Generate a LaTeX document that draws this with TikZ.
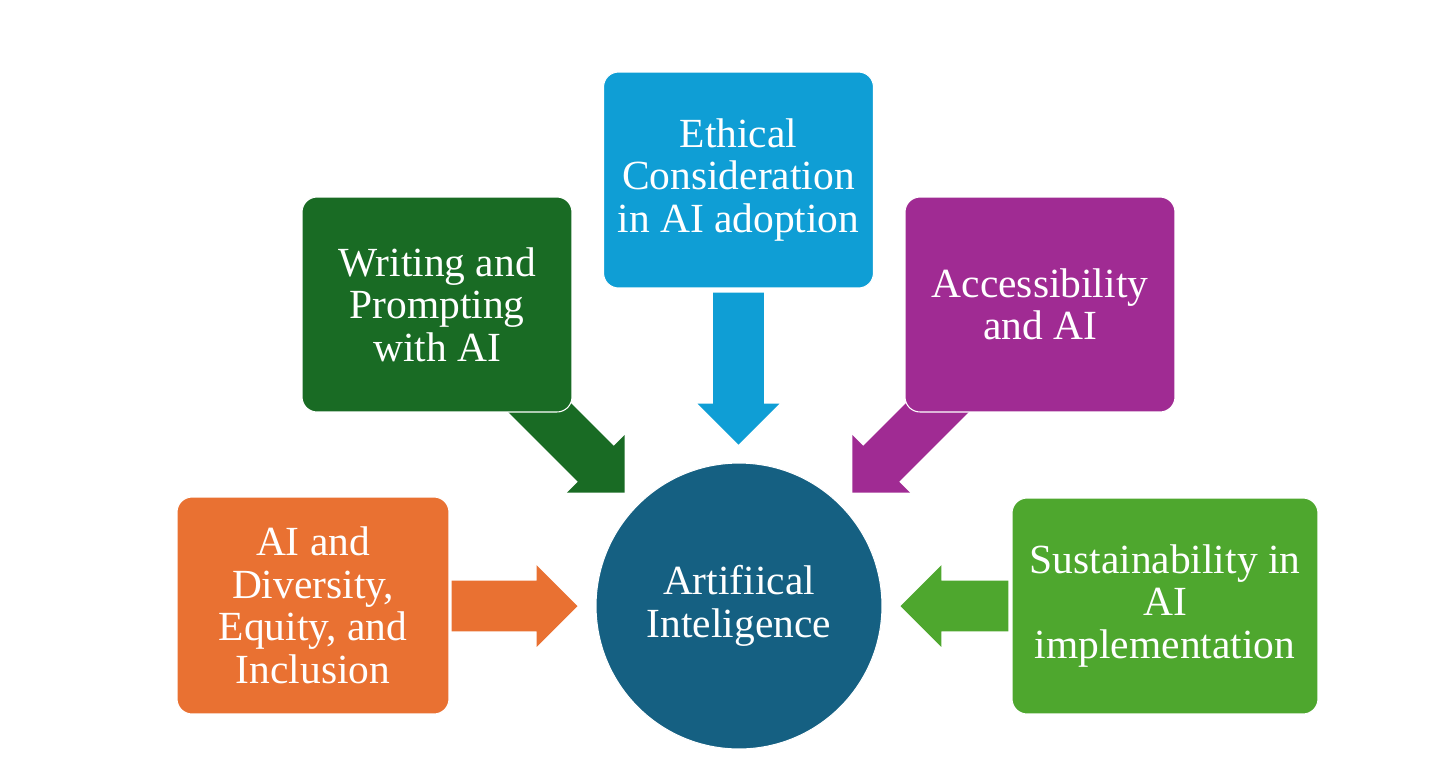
\documentclass[tikz,border=0pt]{standalone}
\usepackage{fontspec}
\setmainfont{Liberation Serif}
\usetikzlibrary{shapes.arrows}
\definecolor{aiblue}{HTML}{156082}
\definecolor{deiorange}{HTML}{E97132}
\definecolor{writegreen}{HTML}{196B24}
\definecolor{ethicblue}{HTML}{0F9ED5}
\definecolor{accpurple}{HTML}{A02B93}
\definecolor{susgreen}{HTML}{4EA72E}
\begin{document}
\begin{tikzpicture}[x=0.02cm, y=-0.02cm,
  topic/.style={rectangle, rounded corners=0.3cm, draw=white, line width=0.6pt, minimum width=5.4cm, minimum height=4.3cm, inner sep=0pt, align=center, text=white, font=\fontsize{23.6}{24.2}\selectfont},
  blockarr/.style={single arrow, single arrow tip angle=90, single arrow head extend=0.31cm, minimum width=1.62cm, inner xsep=0pt, inner ysep=0.5cm, anchor=tip, draw=none}]
\useasboundingbox (0,0) rectangle (1431,779);
\node[blockarr, fill=deiorange, minimum height=2.52cm] (arrdei) at (578,606){};
\node[blockarr, fill=writegreen, minimum height=2.97cm, rotate=-45] (arrwrite) at (625,493){};
\node[blockarr, fill=ethicblue, minimum height=3.04cm, rotate=-90] (arrethic) at (738.5,445){};
\node[blockarr, fill=accpurple, minimum height=2.97cm, rotate=-135] (arracc) at (852,493){};
\node[blockarr, fill=susgreen, minimum height=2.16cm, rotate=180] (arrsus) at (900,606){};
\node[topic, fill=deiorange, minimum width=5.44cm, minimum height=4.34cm] (dei) at (313,605.5){AI and\\Diversity,\\Equity, and\\Inclusion};
\node[topic, fill=writegreen] (write) at (437,304.5){Writing and\\Prompting\\with AI};
\node[topic, fill=ethicblue, minimum height=4.32cm] (ethic) at (738.5,180){Ethical\\Consideration\\in AI adoption};
\node[topic, fill=accpurple] (acc) at (1040,304.5){Accessibility\\and AI};
\node[topic, fill=susgreen, minimum width=6.12cm, minimum height=4.32cm] (sus) at (1165,606){Sustainability in\\AI\\implementation};
\node[circle, fill=aiblue, draw=white, line width=0.6pt, minimum size=5.72cm, inner sep=0pt, align=center, text=white, font=\fontsize{23.6}{24.2}\selectfont] (ai) at (739,606){Artifiical\\Inteligence};
\end{tikzpicture}
\end{document}
